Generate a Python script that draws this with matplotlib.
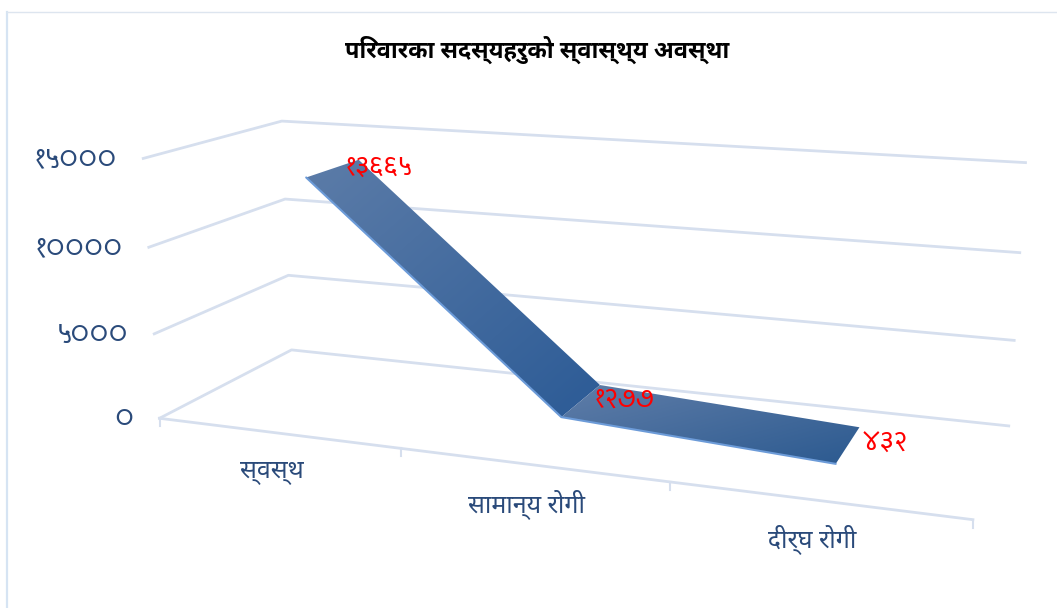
import numpy as np
import matplotlib
matplotlib.use('Agg')
import matplotlib.pyplot as plt
from matplotlib.colors import LinearSegmentedColormap
from matplotlib.patches import Polygon
from mpl_toolkits.mplot3d import proj3d

plt.rcParams['font.family'] = ['Noto Sans Devanagari UI', 'DejaVu Sans']

title = 'परिवारका सदस्यहरुको स्वास्थ्य अवस्था'
categories = ['स्वस्थ', 'सामान्य रोगी', 'दीर्घ रोगी']
values = [13665, 1277, 432]
value_labels = ['१३६६५', '१२७७', '४३२']
ticks = [0, 5000, 10000, 15000]
tick_labels = ['०', '५०००', '१००००', '१५०००']

GRID = '#D6DFEE'
TEXT = '#2A4A7A'
DIGITS = ['Palanquin', 'DejaVu Sans']
W, D, H = 2.5, 0.83, 0.82
PX_W, PX_H = 1057, 608


def shown(s):
    # matplotlib does no shaping, so the short i sign has to come before its consonant
    c = list(s)
    for i in range(1, len(c)):
        if c[i] == '\u093f':
            c[i - 1], c[i] = c[i], c[i - 1]
    return ''.join(c)


fig = plt.figure(figsize=(10.57, 6.08), dpi=100)
ax = fig.add_axes([269 / PX_W, 2 / PX_H, 608 / PX_W, 1.0], projection='3d')
ax.set_proj_type('persp', focal_length=0.52)
ax.view_init(elev=14, azim=-70)
n = np.sqrt(W**2 + D**2 + H**2)
ax.set_box_aspect((W, D, H), zoom=n / (1.8294640721620434 * 25 / 24))
ax.set_xlim(0, 3)
ax.set_ylim(0, 1)
ax.set_zlim(0, 15000)
ax.set_axis_off()

# walls and floor
for t in ticks:
    ax.plot([0, 0, 3], [0, 1, 1], [t, t, t], color=GRID, lw=2, clip_on=False)
ax.plot([0, 3], [0, 0], [0, 0], color=GRID, lw=2, clip_on=False)

fig.canvas.draw()
M = ax.get_proj()


def to_px(x, y, z):
    px, py, _ = proj3d.proj_transform(np.asarray(x, float), np.asarray(y, float), np.asarray(z, float), M)
    pts = ax.transData.transform(np.column_stack([px, py]))
    return pts[:, 0], PX_H - pts[:, 1]


over = fig.add_axes([0, 0, 1, 1], facecolor='none')
over.set_axis_off()

# chart frame
over.plot([7, 7], [12, PX_H], color='#D6E4F3', lw=1.6)
over.plot([7, PX_W], [12, 12], color='#DDE5EF', lw=1)

# ticks under the floor edge
kx, ky = to_px(np.arange(4), [0] * 4, [0] * 4)
for a, b in zip(kx, ky):
    over.plot([a, a], [b, b + 8], color=GRID, lw=1.5)

# ribbon, one gradient per segment
y_front, y_back = 0.29, 0.71
xc = np.arange(len(values)) + 0.5
cmaps = [LinearSegmentedColormap.from_list('a', ['#5C7CA8', '#2C5B96']),
         LinearSegmentedColormap.from_list('b', ['#5F7DA8', '#2C5A90'])]
grad = np.add.outer(np.linspace(0, 1, 80), np.linspace(0, 1, 80)) / 2
for i in range(len(values) - 1):
    xs = [xc[i], xc[i + 1], xc[i + 1], xc[i]]
    ys = [y_front, y_front, y_back, y_back]
    zs = [values[i], values[i + 1], values[i + 1], values[i]]
    qx, qy = to_px(xs, ys, zs)
    im = over.imshow(grad, cmap=cmaps[i], aspect='auto', interpolation='bilinear',
                     extent=(qx.min(), qx.max(), qy.max(), qy.min()))
    im.set_clip_path(Polygon(np.column_stack([qx, qy]), transform=over.transData))

fx, fy = to_px(xc, [y_front] * 3, values)
over.plot(fx, fy, color='#6C9BD8', lw=1.5, solid_capstyle='round')

# labels
vx, vy = to_px(xc, [y_back] * 3, values)
offsets = [(-13, 9), (-5, 15), (2, 17)]
for k, lab in enumerate(value_labels):
    over.text(vx[k] + offsets[k][0], vy[k] + offsets[k][1], lab, color='#FF0000', fontsize=19,
              family=DIGITS, ha='left', va='center')

tx, ty = to_px([0] * 4, [0] * 4, ticks)
for k, lab in enumerate(tick_labels):
    over.text(tx[k] - 26, ty[k] + 2, lab, color=TEXT, fontsize=20, family=DIGITS, ha='right', va='center')

cx, cy = to_px(xc, [0] * 3, [0] * 3)
for k, lab in enumerate(categories):
    over.text(cx[k] - 5, cy[k] + 39, shown(lab), color=TEXT, fontsize=18, ha='center', va='center')

over.text(537, 50, shown(title), color='black', fontsize=17, fontweight='bold', ha='center', va='center')

over.set_xlim(0, PX_W)
over.set_ylim(PX_H, 0)
fig.savefig('out.png', dpi=100)
